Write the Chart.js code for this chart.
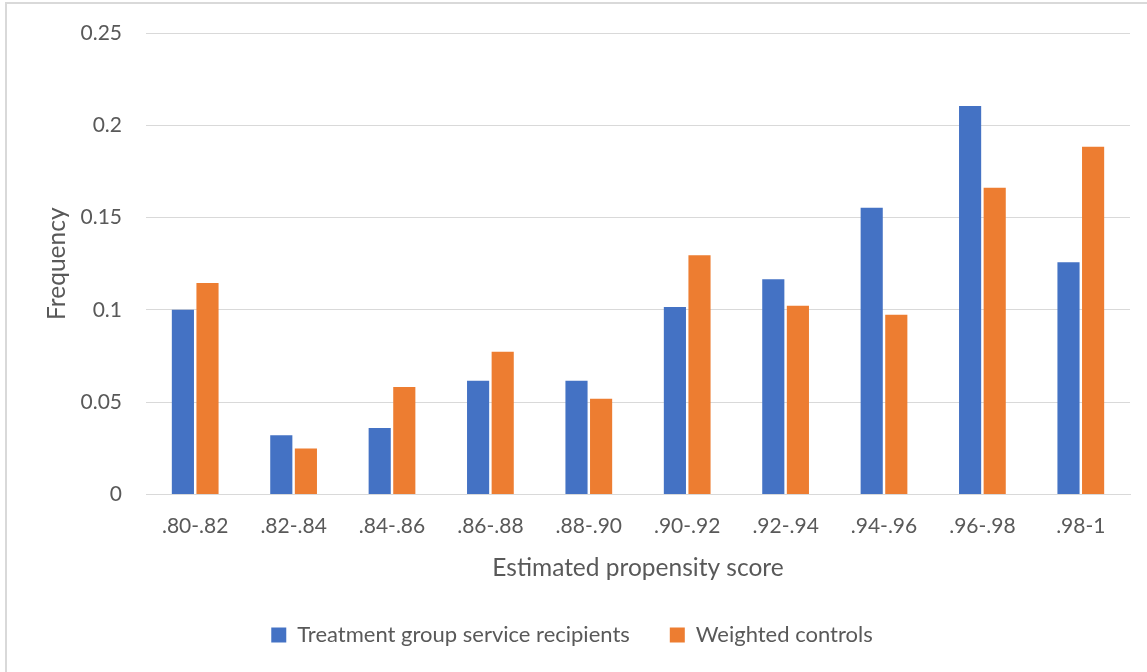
<!DOCTYPE html>
<html>
<head>
<meta charset="utf-8">
<script src="https://cdn.jsdelivr.net/npm/chart.js@4.4.1/dist/chart.umd.min.js"></script>
<style>
    html, body { margin: 0; padding: 0; background: #fff; }
    #frame {
        position: absolute; left: 5px; top: 2px; width: 1160px; height: 690px;
        border-left: 2px solid #d9d9d9; border-top: 2px solid #d9d9d9;
    }
    #wrap { position: absolute; left: 0; top: 0; width: 1147px; height: 672px; }
</style>
</head>
<body>
<div id="frame"></div>
<div id="wrap"><canvas id="chart"></canvas></div>
<script>
// Propensity score bins and frequencies
const bins = ['.80-.82', '.82-.84', '.84-.86', '.86-.88', '.88-.90',
              '.90-.92', '.92-.94', '.94-.96', '.96-.98', '.98-1'];
const treatment = [0.100, 0.032, 0.036, 0.0616, 0.0616, 0.1015, 0.1166, 0.1553, 0.2104, 0.1258];
const controls  = [0.1146, 0.0249, 0.0582, 0.0773, 0.0518, 0.1296, 0.1022, 0.0973, 0.1662, 0.1884];
const yTicks = [0, 0.05, 0.1, 0.15, 0.2, 0.25];

const fontFamily = "Lato, 'Open Sans', sans-serif";
const textColor = '#595959';

function createChart() {
    const canvas = document.getElementById('chart');

    new Chart(canvas, {
        type: 'bar',
        data: {
            labels: bins,
            datasets: [
                {
                    label: 'Treatment group service recipients',
                    data: treatment,
                    backgroundColor: '#4472c4',
                    categoryPercentage: 0.5,
                    barPercentage: 0.9
                },
                {
                    label: 'Weighted controls',
                    data: controls,
                    backgroundColor: '#ed7d31',
                    categoryPercentage: 0.5,
                    barPercentage: 0.9
                }
            ]
        },
        options: {
            responsive: true,
            maintainAspectRatio: false,
            animation: false,
            layout: {
                padding: { left: 14, right: 17, top: 10, bottom: 16 }
            },
            plugins: {
                tooltip: { enabled: false },
                legend: {
                    position: 'bottom',
                    labels: {
                        font: { family: fontFamily, size: 22 },
                        color: textColor,
                        boxWidth: 15,
                        boxHeight: 15,
                        padding: 40
                    }
                }
            },
            scales: {
                x: {
                    grid: { display: false, drawTicks: false },
                    border: { color: '#d9d9d9', width: 1 },
                    ticks: {
                        font: { family: fontFamily, size: 21 },
                        color: textColor,
                        padding: 19,
                        maxRotation: 0
                    },
                    title: {
                        display: true,
                        text: 'Estimated propensity score',
                        font: { family: fontFamily, size: 24.5 },
                        color: textColor,
                        padding: { top: -4, bottom: 1 }
                    }
                },
                y: {
                    min: 0,
                    max: 0.25,
                    afterBuildTicks: function(axis) {
                        axis.ticks = yTicks.map(v => ({ value: v }));
                    },
                    afterFit: function(axis) {
                        axis.width = 132;
                        axis.paddingTop = 33;
                    },
                    grid: { color: '#d9d9d9', lineWidth: 1, drawTicks: false },
                    border: { display: false },
                    ticks: {
                        font: { family: fontFamily, size: 21 },
                        color: textColor,
                        padding: 24,
                        callback: function(value) {
                            return String(value);
                        }
                    },
                    title: {
                        display: true,
                        text: 'Frequency',
                        font: { family: fontFamily, size: 24.5 },
                        color: textColor,
                        padding: { top: 28, bottom: 0 }
                    }
                }
            }
        }
    });
}

document.addEventListener('DOMContentLoaded', createChart);
</script>
</body>
</html>
